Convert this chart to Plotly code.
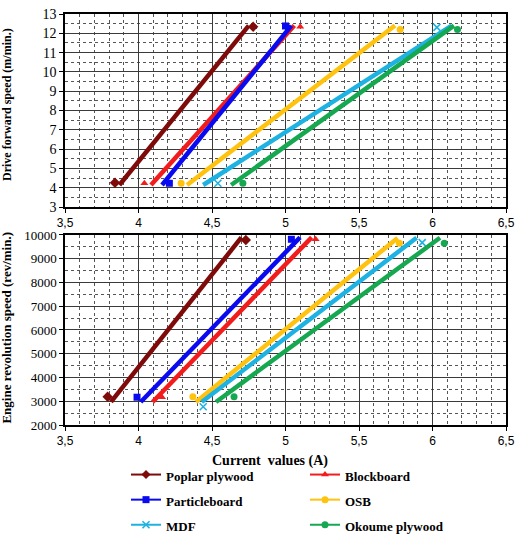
import plotly.graph_objects as go

SERIES = ["Poplar plywood", "Blockboard", "Particleboard", "OSB", "MDF", "Okoume plywood"]
COLORS = ["#7f0a0a", "#f21c1c", "#0a0af0", "#ffc20e", "#1eb2e2", "#16a851"]
SYMBOLS = ["diamond", "triangle-up", "square", "circle", "x-thin-open", "circle"]

# Top panel: drive forward speed (m/min) vs current (A) - measured points
TOP_PTS_X = [[3.84, 4.78], [4.04, 5.10], [4.21, 5.00], [4.29, 5.78], [4.54, 6.03], [4.71, 6.17]]
TOP_PTS_Y = [[4.26, 12.34], [4.23, 12.34], [4.23, 12.38], [4.23, 12.20], [4.23, 12.31], [4.23, 12.20]]
# Top panel trend lines
TOP_TR_X = [[3.87, 4.75], [4.085, 5.06], [4.16, 5.04], [4.33, 5.745], [4.44, 6.13], [4.63, 6.146]]
TOP_TR_Y = [[4.14, 12.40], [4.14, 12.40], [4.14, 12.40], [4.14, 12.40], [4.14, 12.40], [4.14, 12.40]]

# Bottom panel: engine revolution speed (rev/min) vs current (A) - measured points
BOT_PTS_X = [[3.79, 4.73], [4.16, 5.205], [3.99, 5.04], [4.37, 5.775], [4.44, 5.93], [4.65, 6.08]]
BOT_PTS_Y = [[3190, 9790], [3170, 9820], [3170, 9820], [3190, 9650], [2770, 9680], [3190, 9650]]
# Bottom panel trend lines
BOT_TR_X = [[3.813, 4.70], [4.096, 5.178], [4.015, 5.099], [4.391, 5.763], [4.43, 5.892], [4.527, 6.051]]
BOT_TR_Y = [[2970, 9900], [2970, 9900], [2970, 9900], [2970, 9875], [2970, 9885], [2970, 9885]]

X_TICKS = [3.5, 4, 4.5, 5, 5.5, 6, 6.5]
X_TICK_LABELS = ["3,5", "4", "4,5", "5", "5,5", "6", "6,5"]

SERIF = "Liberation Serif"
SANS = "Liberation Sans"

fig = go.Figure()

for i, name in enumerate(SERIES):
    c = COLORS[i]
    sym = SYMBOLS[i]
    mline = dict(width=1.6, color=c) if "x-thin" in sym else dict(width=0)
    msize = 7 if sym != "diamond" else 8
    # trend lines
    fig.add_trace(go.Scatter(x=TOP_TR_X[i], y=TOP_TR_Y[i], mode="lines",
                             line=dict(color=c, width=4.5), showlegend=False,
                             xaxis="x", yaxis="y"))
    fig.add_trace(go.Scatter(x=BOT_TR_X[i], y=BOT_TR_Y[i], mode="lines",
                             line=dict(color=c, width=4.5), showlegend=False,
                             xaxis="x2", yaxis="y2"))
    # points
    fig.add_trace(go.Scatter(x=TOP_PTS_X[i], y=TOP_PTS_Y[i], mode="markers",
                             marker=dict(color=c, symbol=sym, size=msize, line=mline),
                             showlegend=False, xaxis="x", yaxis="y"))
    fig.add_trace(go.Scatter(x=BOT_PTS_X[i], y=BOT_PTS_Y[i], mode="markers",
                             marker=dict(color=c, symbol=sym, size=msize, line=mline),
                             showlegend=False, xaxis="x2", yaxis="y2"))

for i, name in enumerate(SERIES):
    c = COLORS[i]
    sym = SYMBOLS[i]
    mline = dict(width=1.6, color=c) if "x-thin" in sym else dict(width=0)
    fig.add_trace(go.Scatter(x=[None], y=[None], mode="lines+markers",
                             name='<span style="font-size:13px">' + name + "</span>",
                             line=dict(color=c, width=2),
                             marker=dict(color=c, symbol=sym, size=7, line=mline),
                             xaxis="x2", yaxis="y2"))

grid_common = dict(showgrid=True, gridcolor="#3a3a3a", gridwidth=1.2,
                   showline=True, linecolor="black", linewidth=1.5, mirror=True,
                   ticks="outside", ticklen=4, tickcolor="black", zeroline=False)
minor_common = dict(showgrid=True, gridcolor="#555555", gridwidth=1, griddash="dot")

xcommon = dict(range=[3.5, 6.5], tickvals=X_TICKS, ticktext=X_TICK_LABELS,
               tickfont=dict(family=SANS, size=12, color="black"),
               minor=dict(dtick=0.1, tick0=3.5, **minor_common), **grid_common)

fig.update_layout(
    width=518, height=535,
    margin=dict(l=65, r=12, t=14, b=110, autoexpand=False),
    plot_bgcolor="white", paper_bgcolor="white",
    xaxis=dict(domain=[0, 1], anchor="y", **xcommon),
    yaxis=dict(domain=[0.5304, 1], anchor="x", range=[3, 13], dtick=1,
               tickfont=dict(family=SERIF, size=14, color="black"),
               minor=dict(dtick=0.5, **minor_common), **grid_common),
    xaxis2=dict(domain=[0, 1], anchor="y2", **xcommon),
    yaxis2=dict(domain=[0, 0.4623], anchor="x2", range=[2000, 10000], dtick=1000,
                tickformat="d",
                tickfont=dict(family=SERIF, size=13, color="black"),
                minor=dict(dtick=500, **minor_common), **grid_common),
    showlegend=True,
    legend=dict(orientation="h", x=126 / 518, xref="container", xanchor="left",
                y=1 - 457 / 535, yref="container", yanchor="top",
                entrywidth=134, entrywidthmode="pixels", itemwidth=30,
                font=dict(family=SERIF, size=17, color="black", weight="bold"),
                bgcolor="rgba(0,0,0,0)", tracegroupgap=0),
    annotations=[
        dict(text="<b>Drive forward speed (m/min.)</b>", textangle=-90,
             x=-0.1315, y=0.7786, xref="paper", yref="paper", showarrow=False,
             xanchor="center", yanchor="middle",
             font=dict(family=SERIF, size=12, color="black")),
        dict(text="<b>Engine revolution speed (rev/min.)</b>", textangle=-90,
             x=-0.1315, y=0.237, xref="paper", yref="paper", showarrow=False,
             xanchor="center", yanchor="middle",
             font=dict(family=SERIF, size=13, color="black")),
        dict(text="<b>Current  values (A)</b>", x=0.465, y=-0.088,
             xref="paper", yref="paper", showarrow=False,
             xanchor="center", yanchor="middle",
             font=dict(family=SERIF, size=14, color="black")),
    ],
)

fig.write_html("out.html", config={"displayModeBar": False},
               post_script="document.body.style.margin='0';document.body.style.overflow='hidden';")
